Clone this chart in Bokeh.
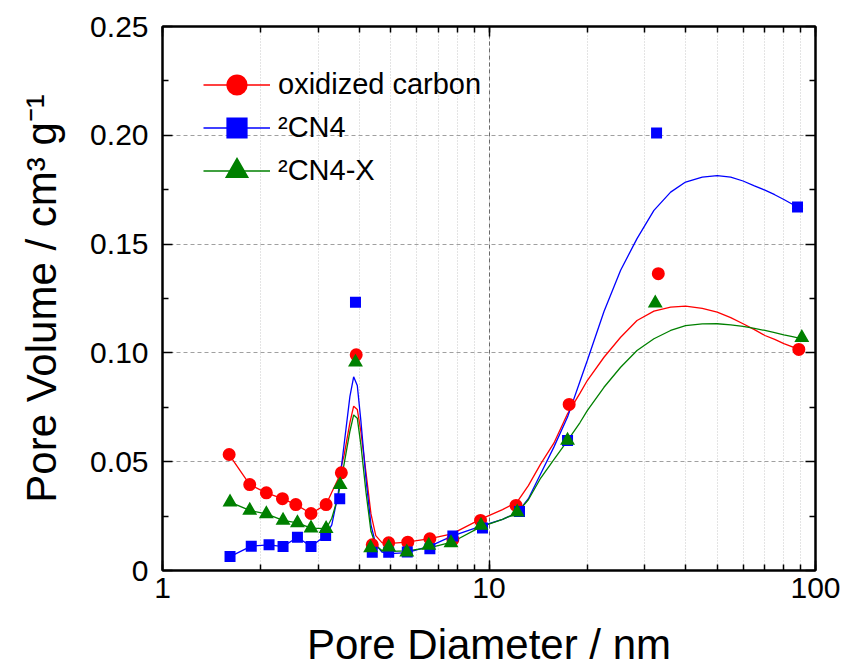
from bokeh.plotting import figure
from bokeh.models import (Range1d, LinearAxis, LogAxis, LogTicker, FixedTicker,
                          Legend, LegendItem, BasicTickFormatter, NumeralTickFormatter,
                          CustomJSTickFormatter)
from bokeh.embed import file_html
from bokeh.resources import INLINE

# ---------------- data ----------------
red_x = [1.6, 1.85, 2.08, 2.33, 2.56, 2.85, 3.17, 3.53, 3.92, 4.39, 4.93, 5.64, 6.59, 7.75, 9.42, 12.1, 17.6, 33.0, 88.9]
red_y = [0.0533, 0.0395, 0.0357, 0.0330, 0.0303, 0.0262, 0.0303, 0.0449, 0.0991, 0.0118, 0.0127, 0.0130, 0.0146, 0.0142, 0.0230, 0.0299, 0.0763, 0.1364, 0.1016]

blue_x = [1.61, 1.87, 2.12, 2.34, 2.59, 2.85, 3.16, 3.49, 3.90, 4.39, 4.93, 5.62, 6.59, 7.75, 9.55, 12.4, 17.4, 32.6, 88.1]
blue_y = [0.0064, 0.0112, 0.0118, 0.0110, 0.0153, 0.0110, 0.0161, 0.0330, 0.1233, 0.0084, 0.0084, 0.0085, 0.0100, 0.0158, 0.0195, 0.0271, 0.0598, 0.2010, 0.1670]

green_x = [1.61, 1.85, 2.08, 2.34, 2.59, 2.85, 3.17, 3.50, 3.90, 4.34, 4.93, 5.60, 6.54, 7.65, 9.45, 12.2, 17.4, 32.3, 90.8]
green_y = [0.0314, 0.0276, 0.0260, 0.0230, 0.0219, 0.0195, 0.0192, 0.0394, 0.0957, 0.0104, 0.0107, 0.0084, 0.0115, 0.0127, 0.0207, 0.0268, 0.0598, 0.1229, 0.1070]

# smoothed fit curves, continuing after the first 7 points
fit_x = [3.3, 3.45, 3.6, 3.75, 3.85, 3.95, 4.05, 4.2, 4.35, 4.5, 4.7, 5.0, 5.6, 6.6, 7.7, 9.4, 11, 12.2,
         13.2, 14.4, 15.8, 17.4, 19, 20, 22.5, 25.3, 28.4, 32, 36, 40, 45, 50, 55, 60, 65, 70, 75, 80, 85, 89]
red_fit = [0.036, 0.042, 0.053, 0.068, 0.0755, 0.074, 0.064, 0.045, 0.026, 0.016, 0.0128, 0.0125, 0.013,
           0.0146, 0.0168, 0.0235, 0.028, 0.0315, 0.039, 0.049, 0.0585, 0.072, 0.0815, 0.0873, 0.098,
           0.1072, 0.1149, 0.1192, 0.121, 0.1215, 0.1205, 0.1187, 0.1162, 0.1134, 0.1107, 0.108, 0.1062,
           0.1043, 0.1028, 0.1016]
blue_fit = [0.021, 0.035, 0.058, 0.080, 0.089, 0.085, 0.069, 0.042, 0.021, 0.012, 0.0085, 0.0078, 0.0082,
            0.0112, 0.0158, 0.0203, 0.0235, 0.0265, 0.033, 0.0445, 0.0567, 0.0705, 0.087, 0.0965, 0.119,
            0.138, 0.1525, 0.1655, 0.1739, 0.1785, 0.1808, 0.1815, 0.1808, 0.179, 0.1768, 0.1748, 0.1727,
            0.1705, 0.1683, 0.1667]
green_fit = [0.024, 0.034, 0.049, 0.064, 0.0715, 0.070, 0.058, 0.036, 0.018, 0.0115, 0.0092, 0.0088, 0.009,
             0.0105, 0.013, 0.0199, 0.0235, 0.0265, 0.0325, 0.0425, 0.051, 0.0597, 0.068, 0.0735, 0.0842,
             0.0934, 0.1011, 0.1065, 0.1103, 0.1125, 0.1133, 0.1134, 0.1129, 0.1122, 0.1113, 0.1103, 0.1093,
             0.1083, 0.1075, 0.1068]

labels = ["oxidized carbon", "\u00b2CN4", "\u00b2CN4-X"]
y_ticks = [0, 0.05, 0.10, 0.15, 0.20, 0.25]
y_minor = [0.025, 0.075, 0.125, 0.175, 0.225]

FONT = "Liberation Sans"

p = figure(width=844, height=671, x_axis_type="log",
           x_range=Range1d(1, 100), y_range=Range1d(0, 0.25),
           output_backend="svg", toolbar_location=None,
           min_border_left=162, min_border_right=29, min_border_top=26, min_border_bottom=101)
p.background_fill_color = "white"
p.border_fill_color = "white"
p.outline_line_color = "black"
p.outline_line_width = 2

xt = LogTicker(mantissas=[1], num_minor_ticks=10)
yt = FixedTicker(ticks=y_ticks, minor_ticks=y_minor)

def style_axis(ax):
    ax.axis_line_width = 2
    ax.axis_line_color = "black"
    ax.major_tick_in = 10
    ax.major_tick_out = 0
    ax.minor_tick_in = 6
    ax.minor_tick_out = 0
    ax.major_tick_line_width = 1.5
    ax.minor_tick_line_width = 1.5
    ax.major_label_text_font = FONT
    ax.major_label_text_font_size = "30px"
    ax.major_label_text_color = "black"
    ax.axis_label_text_font = FONT
    ax.axis_label_text_font_size = "42px"
    ax.axis_label_text_font_style = "normal"
    ax.axis_label_text_color = "black"

xa = p.xaxis[0]
xa.ticker = xt
xa.formatter = BasicTickFormatter()
xa.axis_label = "Pore Diameter / nm"
style_axis(xa)
xa.major_label_standoff = 7
xa.axis_label_standoff = 20

ya = p.yaxis[0]
ya.ticker = yt
ya.formatter = NumeralTickFormatter(format="0.00")
ya.major_label_overrides = {0: "0"}
ya.axis_label = "Pore Volume / cm\u00b3 g\u207b\u00b9"
style_axis(ya)
ya.major_label_standoff = 14
ya.axis_label_standoff = 22

blank = CustomJSTickFormatter(code="return ''")
top = LogAxis(ticker=xt, formatter=blank)
style_axis(top)
p.add_layout(top, "above")
right = LinearAxis(ticker=yt, formatter=blank)
style_axis(right)
p.add_layout(right, "right")

p.xgrid.ticker = xt
p.xgrid.grid_line_color = "#6a6a6a"
p.xgrid.grid_line_dash = "4 3"
p.xgrid.grid_line_width = 1
p.xgrid.minor_grid_line_color = "#c8c8c8"
p.xgrid.minor_grid_line_dash = "1 2"
p.ygrid.ticker = yt
p.ygrid.grid_line_color = "#a0a0a0"
p.ygrid.grid_line_dash = "4 3"
p.ygrid.grid_line_width = 1

# marker size + outline width together give the visual size (plot and legend)
series = [
    (red_x, red_y, red_fit, "#ff0000", "circle", 9),
    (blue_x, blue_y, blue_fit, "#0000ff", "square", 7),
    (green_x, green_y, green_fit, "#008000", "triangle", 8),
]

lines = []
for sx, sy, fy, col, mk, sz in series:
    lx = sx[:7] + fit_x
    ly = sy[:7] + fy
    lines.append(p.line(lx, ly, line_color=col, line_width=1.3))

items = []
for (sx, sy, fy, col, mk, sz), ln, lab in zip(series, lines, labels):
    sc = p.scatter(sx, sy, marker=mk, size=sz, fill_color=col, line_color=col,
                   line_width=4, line_join="miter")
    items.append(LegendItem(label=lab, renderers=[ln, sc]))

legend = Legend(items=items, location=(41, 378), glyph_width=67, glyph_height=43, spacing=0,
                padding=0, margin=0, label_standoff=8, label_text_font=FONT,
                label_text_font_size="29px", label_text_color="black",
                border_line_color=None, background_fill_alpha=0)
p.add_layout(legend)

open("out.html", "w").write(file_html(p, INLINE))
